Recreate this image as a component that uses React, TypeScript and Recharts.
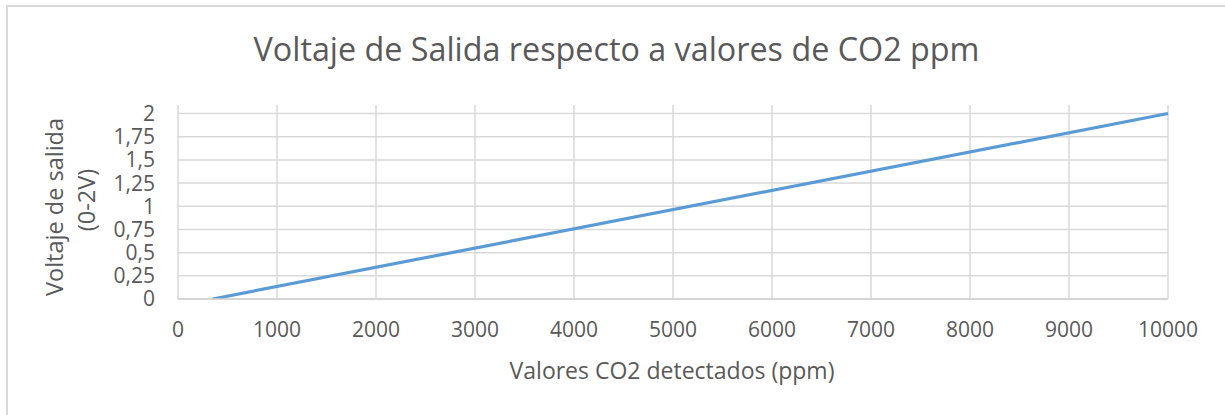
import React from 'react';
import { LineChart, Line, XAxis, YAxis, CartesianGrid } from 'recharts';

const ppmValues = [350, 10000];
const voltageValues = [0, 2];
const xTicks = [0, 1000, 2000, 3000, 4000, 5000, 6000, 7000, 8000, 9000, 10000];
const yTicks = [0, 0.25, 0.5, 0.75, 1, 1.25, 1.5, 1.75, 2];

const chartTitle = 'Voltaje de Salida respecto a valores de CO2 ppm';
const yTitleLines = ['Voltaje de salida', '(0-2V)'];
const xTitle = 'Valores CO2 detectados (ppm)';

const data = ppmValues.map((p, i) => ({ ppm: p, v: voltageValues[i] }));

const FONT = '"Open Sans", sans-serif';
const TEXT = '#595959';

export default function App() {
  return (
    <div style={{ position: 'absolute', left: 0, top: 0, width: 1225, height: 415, background: '#fff' }}>
      <div
        style={{
          position: 'absolute',
          left: 6,
          top: 5,
          width: 1225,
          height: 420,
          borderTop: '2px solid #d9d9d9',
          borderLeft: '2px solid #d9d9d9',
          boxSizing: 'border-box',
        }}
      />
      <div style={{ position: 'absolute', left: 0, top: 0 }}>
        <LineChart
          width={1225}
          height={415}
          data={data}
          margin={{ top: 105, right: 57, bottom: 76, left: 118 }}
        >
          <CartesianGrid stroke="#d9d9d9" strokeWidth={1.5} horizontalValues={yTicks} verticalValues={xTicks} />
          <XAxis
            dataKey="ppm"
            type="number"
            domain={[0, 10000]}
            ticks={xTicks}
            height={40}
            tickLine={false}
            tickSize={0}
            tickMargin={23}
            axisLine={{ stroke: '#d0d0d0', strokeWidth: 1.5 }}
            tick={{ fill: TEXT, fontSize: 21, fontFamily: FONT }}
            interval={0}
          />
          <YAxis
            type="number"
            domain={[0, 2.092]}
            ticks={yTicks}
            width={60}
            tickLine={false}
            tickSize={0}
            tickMargin={23}
            axisLine={false}
            allowDataOverflow
            tick={{ fill: TEXT, fontSize: 21, fontFamily: FONT }}
            tickFormatter={(v: number) => String(v).replace('.', ',')}
            interval={0}
          />
          <Line
            type="linear"
            dataKey="v"
            stroke="#5b9bd5"
            strokeWidth={3.2}
            dot={false}
            isAnimationActive={false}
          />
        </LineChart>
      </div>
      <svg
        width={1225}
        height={415}
        style={{ position: 'absolute', left: 0, top: 0, pointerEvents: 'none' }}
      >
        <text x={616.5} y={61} textAnchor="middle" fontSize={32.3} fontFamily={FONT} fill={TEXT}>
          {chartTitle}
        </text>
        <text
          x={62.5}
          y={207}
          textAnchor="middle"
          fontSize={23.5}
          fontFamily={FONT}
          fill={TEXT}
          transform="rotate(-90 62.5 207)"
        >
          {yTitleLines[0]}
        </text>
        <text
          x={95}
          y={200}
          textAnchor="middle"
          fontSize={23.5}
          fontFamily={FONT}
          fill={TEXT}
          transform="rotate(-90 95 200)"
        >
          {yTitleLines[1]}
        </text>
        <text x={672} y={379} textAnchor="middle" fontSize={23} fontFamily={FONT} fill={TEXT}>
          {xTitle}
        </text>
      </svg>
    </div>
  );
}
